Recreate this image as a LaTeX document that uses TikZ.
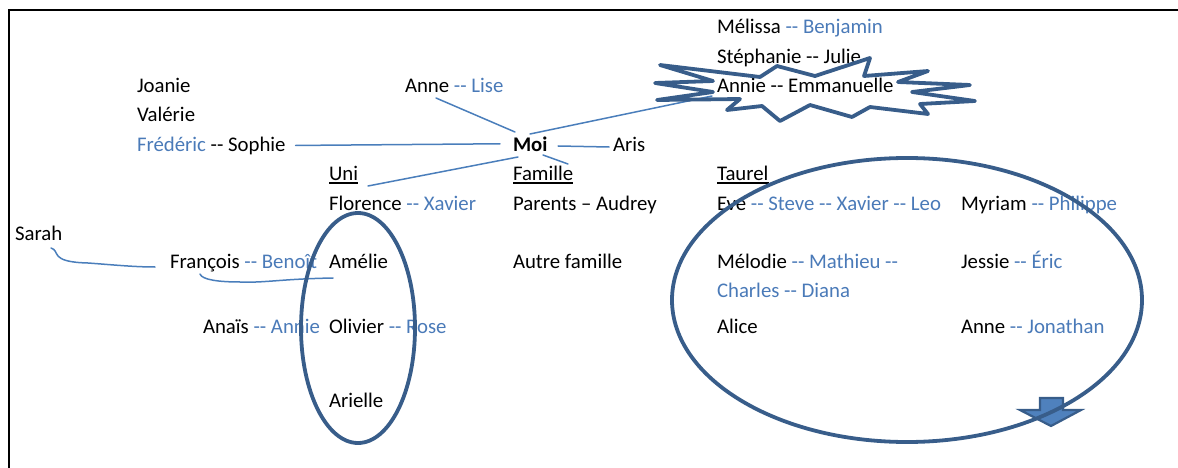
\documentclass[tikz,border=0pt]{standalone}
\usepackage{fontspec}
\newfontfamily\calib{Carlito}
\definecolor{txtblue}{HTML}{4A7AB8}
\definecolor{linkblue}{HTML}{4A7EBB}
\definecolor{shapeblue}{HTML}{385D8A}
\definecolor{fillblue}{HTML}{4F81BD}
\newcommand\bl[1]{\textcolor{txtblue}{#1}}
\newcommand\ulin[1]{\setbox0\hbox{#1}\rlap{\rule[-3.6pt]{\wd0}{1.5pt}}\box0}
\tikzset{
  person/.style={anchor=base west, inner sep=0pt, outer sep=0pt,
    font=\calib\fontsize{20.8}{25}\selectfont},
  conn/.style={draw=linkblue, line width=1.5pt, line cap=round},
  outline/.style={draw=shapeblue, line width=3.8pt, line join=round},
}
\begin{document}
\begin{tikzpicture}[x=1pt,y=-1pt]
\useasboundingbox (0,0) rectangle (1178,468);
% frame
\draw[line width=2pt] (9,470) -- (9,10) -- (1182,10);

% names
\node[person] (mel) at (717,34) {Mélissa \bl{-- Benjamin}};
\node[person] (ste) at (717,64) {Stéphanie -- Julie};
\node[person] (ann) at (717,93) {Annie -- Emmanuelle};
\node[person] (joa) at (137,93) {Joanie};
\node[person] (val) at (137,122) {Valérie};
\node[person] (fre) at (137,151) {\bl{Frédéric} -- Sophie};
\node[person] (lis) at (405,93) {Anne \bl{-- Lise}};
\node[person] (moi) at (513,151) {\bfseries Moi};
\node[person] (ari) at (613,151) {Aris};
\node[person] (uni) at (329,180) {\ulin{Uni}};
\node[person] (fam) at (513,180) {\ulin{Famille}};
\node[person] (tau) at (717,180) {\ulin{Taurel}};
\node[person] (flo) at (329,210) {Florence \bl{-- Xavier}};
\node[person] (par) at (513,210) {Parents – Audrey};
\node[person] (eve) at (717,210) {Eve \bl{-- Steve -- Xavier -- Leo}};
\node[person] (myr) at (961,210) {Myriam \bl{-- Philippe}};
\node[person] (sar) at (15,240) {Sarah};
\node[person] (fra) at (170,268) {François \bl{-- Benoît}};
\node[person] (ame) at (329,268) {Amélie};
\node[person] (aut) at (513,268) {Autre famille};
\node[person] (meo) at (717,268) {Mélodie \bl{-- Mathieu --}};
\node[person] (cha) at (717,297) {\bl{Charles -- Diana}};
\node[person] (jes) at (961,268) {Jessie \bl{-- Éric}};
\node[person] (ana) at (203,333) {Anaïs \bl{-- Annie}};
\node[person] (oli) at (329,333) {Olivier \bl{-- Rose}};
\node[person] (ali) at (717,333) {Alice};
\node[person] (ajo) at (961,333) {Anne \bl{-- Jonathan}};
\node[person] (arl) at (329,407) {Arielle};

% links around Moi
\draw[conn] ([xshift=10pt]fre.east) -- ([xshift=-13pt]moi.west);
\draw[conn] ([xshift=31pt,yshift=-5pt]lis.base west) -- ([xshift=2pt,yshift=19pt]moi.base west);
\draw[conn] ([xshift=17pt,yshift=17pt]moi.base west) -- ([xshift=-5pt,yshift=-3pt]ann.base west);
\draw[conn] ([xshift=45pt,yshift=5pt]moi.base west) -- ([xshift=-4pt,yshift=4pt]ari.base west);
\draw[conn] ([xshift=30pt,yshift=-4pt]moi.base west) -- ([xshift=55pt,yshift=16pt]fam.base west);
\draw[conn] ([xshift=5pt,yshift=-6pt]moi.base west) -- ([xshift=39pt,yshift=-6pt]uni.base west);

% hand-drawn links
\coordinate (s0) at ([xshift=36pt,yshift=-8pt]sar.base west);
\coordinate (s1) at ([xshift=-15pt,yshift=1pt]fra.base west);
\draw[conn] (s0) .. controls +(10,3) and +(-40,-1) .. (88,263) .. controls (115,265) and (135,267) .. (s1);
\coordinate (f0) at ([xshift=30pt,yshift=-6pt]fra.base west);
\coordinate (f1) at ([xshift=4pt,yshift=-10pt]ame.base west);
\draw[conn] (f0) .. controls +(2,6) and +(-20,0) .. (240,282) .. controls (265,283) and (280,279) .. (f1);

% down arrow under the big ellipse
\draw[draw=shapeblue, fill=fillblue, line width=2.2pt, line join=miter]
  (1040,398) -- (1063,398) -- (1063,410) -- (1081,410) -- (1051,426)
  -- (1020,410) -- (1040,410) -- cycle;

% groups
\draw[outline] (358,328) ellipse [x radius=57, y radius=115];
\draw[outline] (907,300) ellipse [x radius=235, y radius=142];

% burst
\draw[outline]
  (660,65) -- (760,77) -- (777,66) -- (815,76) -- (870,58) -- (864,76)
  -- (928,71) -- (898,82) -- (970,85) -- (912,92) -- (975,101) -- (920,104)
  -- (928,114) -- (870,107) -- (852,117) -- (810,105) -- (780,121)
  -- (762,106) -- (727,110) -- (740,99) -- (657,100) -- (713,92)
  -- (655,83) -- (713,81) -- cycle;
\end{tikzpicture}
\end{document}
